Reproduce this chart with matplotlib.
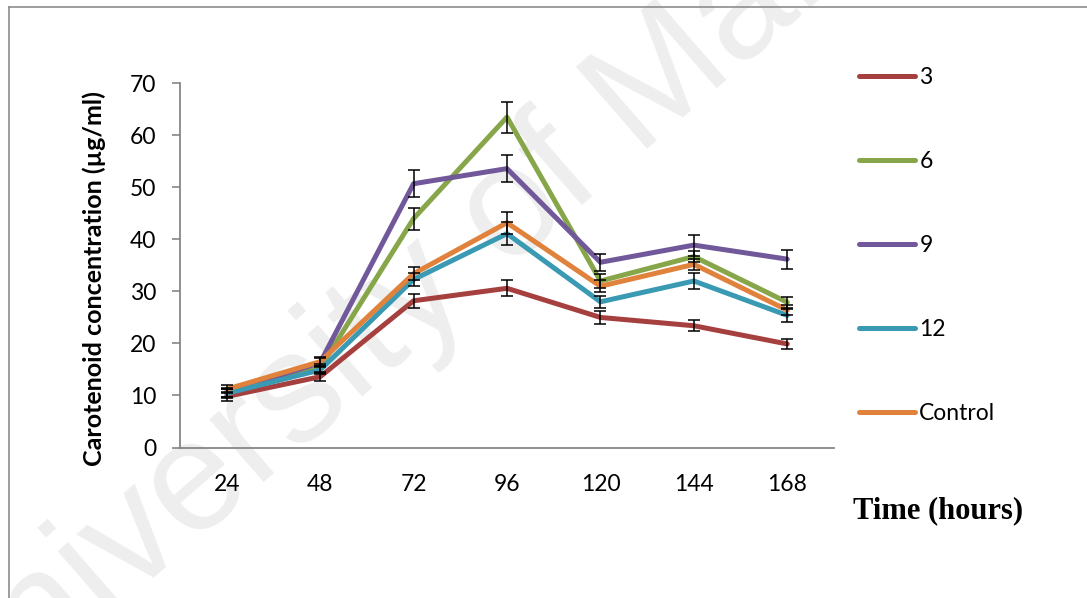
import matplotlib
matplotlib.use('Agg')
import matplotlib.pyplot as plt
from matplotlib.lines import Line2D

hours = ['24', '48', '72', '96', '120', '144', '168']

s3 = [9.8, 13.6, 28.2, 30.6, 25.0, 23.4, 19.9]
s3_err = [0.8, 0.8, 1.3, 1.5, 1.2, 1.1, 1.0]
s6 = [10.5, 15.3, 44.0, 63.5, 32.0, 36.7, 27.9]
s6_err = [0.8, 0.8, 2.1, 3.0, 1.4, 1.1, 1.1]
s9 = [10.6, 16.3, 50.7, 53.6, 35.6, 38.9, 36.2]
s9_err = [0.8, 0.9, 2.6, 2.6, 1.6, 2.0, 1.8]
s12 = [10.4, 14.9, 32.3, 41.1, 28.0, 32.0, 25.4]
s12_err = [0.8, 0.8, 1.2, 2.2, 1.2, 1.6, 1.2]
ctrl = [11.2, 16.5, 33.4, 43.2, 31.0, 35.2, 26.4]
ctrl_err = [0.8, 0.8, 1.2, 2.1, 1.2, 1.1, 1.0]

labels = ['3', '6', '9', '12', 'Control']
colors = ['#a6403f', '#87a64a', '#71589a', '#3a9ab3', '#e0823b']

fig = plt.figure(figsize=(10.87, 5.98), dpi=100)

# watermark + page border (behind the chart)
fig.text(0.423, 0.569, 'University of Malaya', fontsize=113, color='#eeeeee',
         rotation=41, ha='center', va='center', family='Liberation Sans', zorder=-5)
grey = '#8c8c8c'
fig.add_artist(Line2D([9 / 1087, 9 / 1087], [0, 1 - 7 / 598], color=grey, lw=1.2))
fig.add_artist(Line2D([9 / 1087, 1], [1 - 7 / 598, 1 - 7 / 598], color=grey, lw=1.2))

ax = fig.add_axes([180 / 1087, 1 - 447.5 / 598, 654 / 1087, 364.2 / 598])
ax.patch.set_alpha(0)
ax.set_zorder(1)

x = range(len(hours))
series = [(s3, s3_err), (s6, s6_err), (s9, s9_err), (s12, s12_err), (ctrl, ctrl_err)]
for (y, e), c, l in zip(series, colors, labels):
    ax.plot(x, y, color=c, lw=3.6, label=l, solid_capstyle='round',
            solid_joinstyle='round', zorder=2)
for (y, e) in series:
    ax.errorbar(x, y, yerr=e, fmt='none', ecolor='black', elinewidth=1.1,
                capsize=4, capthick=1.1, zorder=3)

ax.set_xlim(-0.5, 6.5)
ax.set_ylim(0, 70)
ax.set_yticks(range(0, 71, 10))
ax.set_xticks(list(x))
ax.set_xticklabels(hours)

for s in ['top', 'right']:
    ax.spines[s].set_visible(False)
for s in ['left', 'bottom']:
    ax.spines[s].set_color('#868686')
    ax.spines[s].set_linewidth(1.3)
ax.tick_params(axis='y', direction='out', length=6, width=1.2, color='#868686',
               pad=11, labelsize=16.5)
ax.tick_params(axis='x', length=0, pad=19, labelsize=16.5)
for t in ax.get_xticklabels() + ax.get_yticklabels():
    t.set_family('Lato')

ax.set_ylabel('Carotenoid concentration (µg/ml)', fontsize=18,
              fontweight='bold', family='Lato')
ax.yaxis.set_label_coords(-0.113, 0.463)

leg = fig.legend(loc='upper left', bbox_to_anchor=(859 / 1087, 1 - 67 / 598),
                 frameon=False, prop={'family': 'Lato', 'size': 16.5},
                 handlelength=2.45, handletextpad=0.18, labelspacing=2.75,
                 borderpad=0, borderaxespad=0)

fig.text(853 / 1087, 1 - 511 / 598, 'Time (hours)', fontsize=22,
         fontweight='bold', family='Liberation Serif', va='center', ha='left')

fig.savefig('out.png', dpi=100)
